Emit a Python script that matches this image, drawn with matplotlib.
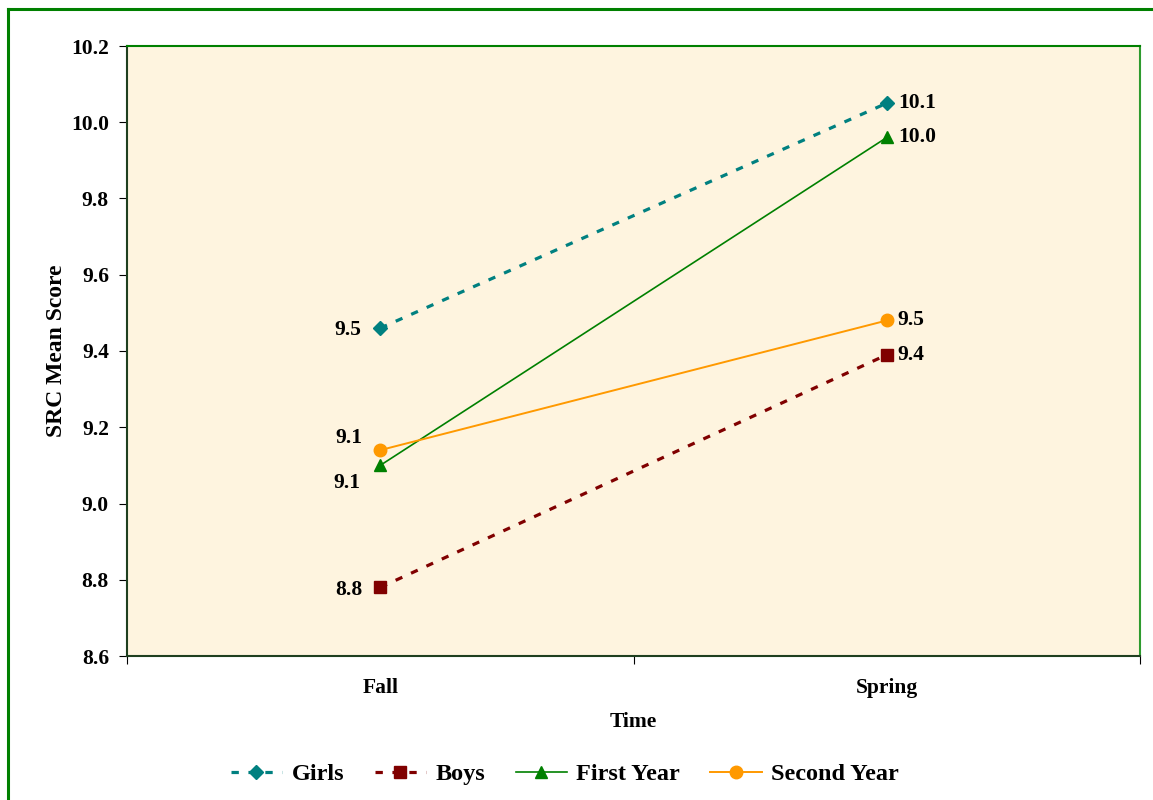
import matplotlib
matplotlib.use("Agg")
import matplotlib.pyplot as plt
from matplotlib.lines import Line2D

# Data
times = ["Fall", "Spring"]
girls = [9.46, 10.05]
boys = [8.78, 9.39]
first_year = [9.10, 9.96]
second_year = [9.14, 9.48]
y_ticks = [8.6, 8.8, 9.0, 9.2, 9.4, 9.6, 9.8, 10.0, 10.2]

plt.rcParams['font.family'] = ['Liberation Serif', 'DejaVu Serif']
plt.rcParams['font.weight'] = 'bold'

fig = plt.figure(figsize=(11.53, 8.0), dpi=100)
ax = fig.add_axes([127 / 1153, 1 - 656 / 800, (1140 - 127) / 1153, (656 - 46) / 800])
ax.set_facecolor('#FEF4DF')

x = [0.5, 1.5]
series = [
    ("Girls", girls, '#008080', 'D', (0, (2.3, 3.0)), 2.3, 7.5),
    ("Boys", boys, '#800000', 's', (0, (2.3, 3.0)), 2.3, 8),
    ("First Year", first_year, '#008000', '^', '-', 1.2, 8.5),
    ("Second Year", second_year, '#FF9900', 'o', '-', 1.4, 9),
]
for name, vals, color, marker, ls, lw, ms in series:
    ax.plot(x, vals, color=color, linestyle=ls, linewidth=lw, marker=marker,
            markersize=ms, markerfacecolor=color, markeredgecolor=color,
            label=name, zorder=3)

# Value labels
label_font = dict(fontsize=15.5, fontweight='bold', color='black')
fall_offsets = {"Girls": (-14, -1), "Boys": (-13, -2), "First Year": (-14, -13),
                "Second Year": (-13, 9)}
for name, vals, *_ in series:
    dx, dy = fall_offsets[name]
    ax.annotate(f"{vals[0]:.1f}", (x[0], vals[0]), xytext=(dx, dy),
                textcoords='offset points', ha='right', va='center', **label_font)
    ax.annotate(f"{vals[1]:.1f}", (x[1], vals[1]), xytext=(8, 0),
                textcoords='offset points', ha='left', va='center', **label_font)

ax.set_xlim(0, 2)
ax.set_ylim(8.6, 10.2)
ax.set_yticks(y_ticks)
ax.set_yticklabels([f"{v:.1f}" for v in y_ticks], fontsize=15.5, fontweight='bold')
ax.set_xticks([0, 1, 2])
ax.set_xticklabels([])
ax.set_xticks(x, minor=True)
ax.set_xticklabels(times, minor=True, fontsize=15.5, fontweight='bold')
ax.tick_params(axis='x', which='minor', length=0, pad=16)
ax.tick_params(axis='x', which='major', length=6, direction='out', color='black')
ax.tick_params(axis='y', length=6, direction='out', color='black', pad=7)

ax.set_xlabel("Time", fontsize=15.5, fontweight='bold', labelpad=10)
ax.set_ylabel("SRC Mean Score", fontsize=17, fontweight='bold', labelpad=3)

ax.spines['left'].set_color('#1F3F1F')
ax.spines['bottom'].set_color('#1F3F1F')
ax.spines['top'].set_color('#008000')
ax.spines['right'].set_color('#2E9B2E')
for s in ax.spines.values():
    s.set_linewidth(1.5)

leg = fig.legend(loc='center', bbox_to_anchor=(0.49, 1 - 774 / 800), ncol=4,
                 frameon=False, handlelength=2.1, columnspacing=1.25,
                 handletextpad=0.4, prop=dict(size=17.5, weight='bold'))

# Outer frame (left and top edges)
fig.add_artist(Line2D([7.5 / 1153, 7.5 / 1153], [0, 1 - 9 / 800],
                      transform=fig.transFigure, color='#008000', linewidth=2.2))
fig.add_artist(Line2D([7.5 / 1153, 1], [1 - 9 / 800, 1 - 9 / 800],
                      transform=fig.transFigure, color='#008000', linewidth=2.2))

fig.savefig("out.png", dpi=100)
